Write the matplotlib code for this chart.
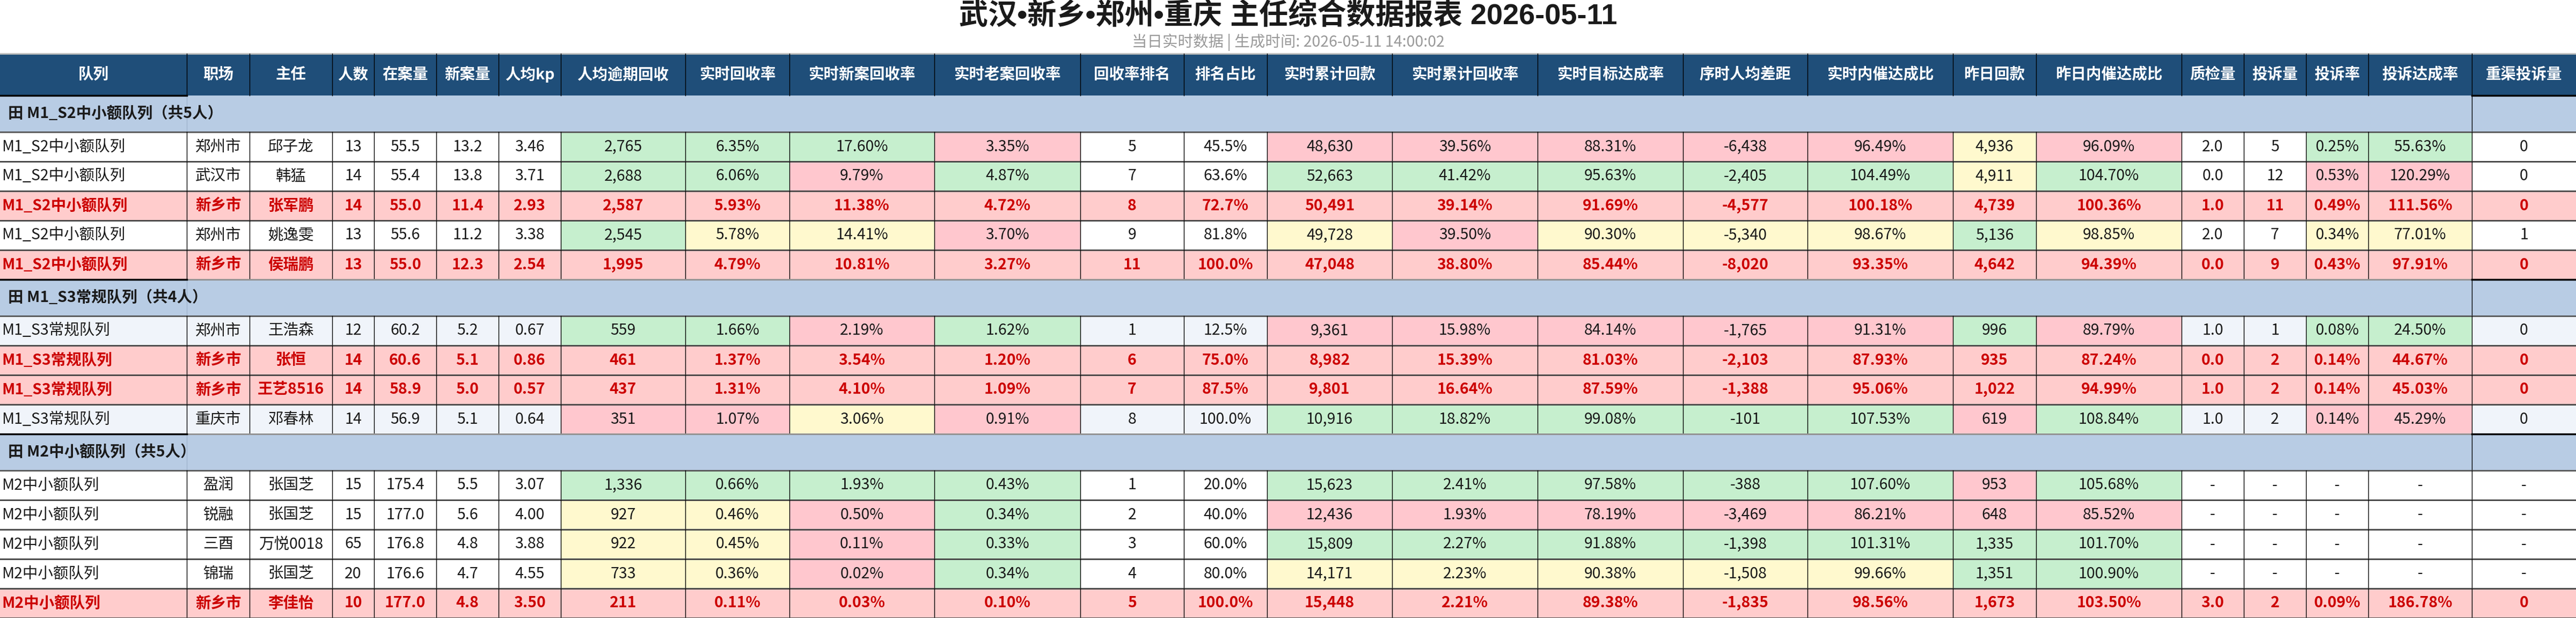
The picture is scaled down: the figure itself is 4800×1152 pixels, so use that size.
import matplotlib
matplotlib.use('Agg')
import matplotlib.pyplot as plt
from matplotlib.patches import Rectangle

plt.rcParams['font.family'] = ['Noto Sans CJK SC', 'DejaVu Sans']

# ---------------- data ----------------
title = '武汉•新乡•郑州•重庆 主任综合数据报表 2026-05-11'
subtitle = '当日实时数据 | 生成时间: 2026-05-11 14:00:02'
columns = ['队列', '职场', '主任', '人数', '在案量', '新案量', '人均kp', '人均逾期回收',
           '实时回收率', '实时新案回收率', '实时老案回收率', '回收率排名', '排名占比',
           '实时累计回款', '实时累计回收率', '实时目标达成率', '序时人均差距', '实时内催达成比',
           '昨日回款', '昨日内催达成比', '质检量', '投诉量', '投诉率', '投诉达成率', '重渠投诉量']
group_names = ['M1_S2中小额队列', 'M1_S3常规队列', 'M2中小额队列']
group_sizes = [5, 4, 5]
highlight_site = '新乡市'

queues = ['M1_S2中小额队列', 'M1_S2中小额队列', 'M1_S2中小额队列', 'M1_S2中小额队列', 'M1_S2中小额队列',
          'M1_S3常规队列', 'M1_S3常规队列', 'M1_S3常规队列', 'M1_S3常规队列',
          'M2中小额队列', 'M2中小额队列', 'M2中小额队列', 'M2中小额队列', 'M2中小额队列']
sites = ['郑州市', '武汉市', '新乡市', '郑州市', '新乡市', '郑州市', '新乡市', '新乡市', '重庆市',
         '盈润', '锐融', '三酉', '锦瑞', '新乡市']
managers = ['邱子龙', '韩猛', '张军鹏', '姚逸雯', '侯瑞鹏', '王浩森', '张恒', '王艺8516', '邓春林',
            '张国芝', '张国芝', '万悦0018', '张国芝', '李佳怡']
headcount = [13, 14, 14, 13, 13, 12, 14, 14, 14, 15, 15, 65, 20, 10]
caseload = [55.5, 55.4, 55.0, 55.6, 55.0, 60.2, 60.6, 58.9, 56.9, 175.4, 177.0, 176.8, 176.6, 177.0]
new_cases = [13.2, 13.8, 11.4, 11.2, 12.3, 5.2, 5.1, 5.0, 5.1, 5.5, 5.6, 4.8, 4.7, 4.8]
kp_per_head = [3.46, 3.71, 2.93, 3.38, 2.54, 0.67, 0.86, 0.57, 0.64, 3.07, 4.00, 3.88, 4.55, 3.50]
overdue_per_head = [2765, 2688, 2587, 2545, 1995, 559, 461, 437, 351, 1336, 927, 922, 733, 211]
recovery_rate = [6.35, 6.06, 5.93, 5.78, 4.79, 1.66, 1.37, 1.31, 1.07, 0.66, 0.46, 0.45, 0.36, 0.11]
new_case_rate = [17.60, 9.79, 11.38, 14.41, 10.81, 2.19, 3.54, 4.10, 3.06, 1.93, 0.50, 0.11, 0.02, 0.03]
old_case_rate = [3.35, 4.87, 4.72, 3.70, 3.27, 1.62, 1.20, 1.09, 0.91, 0.43, 0.34, 0.33, 0.34, 0.10]
rate_rank = [5, 7, 8, 9, 11, 1, 6, 7, 8, 1, 2, 3, 4, 5]
rank_share = [45.5, 63.6, 72.7, 81.8, 100.0, 12.5, 75.0, 87.5, 100.0, 20.0, 40.0, 60.0, 80.0, 100.0]
cum_amount = [48630, 52663, 50491, 49728, 47048, 9361, 8982, 9801, 10916, 15623, 12436, 15809, 14171, 15448]
cum_rate = [39.56, 41.42, 39.14, 39.50, 38.80, 15.98, 15.39, 16.64, 18.82, 2.41, 1.93, 2.27, 2.23, 2.21]
target_rate = [88.31, 95.63, 91.69, 90.30, 85.44, 84.14, 81.03, 87.59, 99.08, 97.58, 78.19, 91.88, 90.38, 89.38]
per_head_gap = [-6438, -2405, -4577, -5340, -8020, -1765, -2103, -1388, -101, -388, -3469, -1398, -1508, -1835]
inhouse_ratio = [96.49, 104.49, 100.18, 98.67, 93.35, 91.31, 87.93, 95.06, 107.53, 107.60, 86.21, 101.31, 99.66, 98.56]
yesterday_amount = [4936, 4911, 4739, 5136, 4642, 996, 935, 1022, 619, 953, 648, 1335, 1351, 1673]
yesterday_ratio = [96.09, 104.70, 100.36, 98.85, 94.39, 89.79, 87.24, 94.99, 108.84, 105.68, 85.52, 101.70, 100.90, 103.50]
qc_count = [2.0, 0.0, 1.0, 2.0, 0.0, 1.0, 0.0, 1.0, 1.0, None, None, None, None, 3.0]
complaints = [5, 12, 11, 7, 9, 1, 2, 2, 2, None, None, None, None, 2]
complaint_rate = [0.25, 0.53, 0.49, 0.34, 0.43, 0.08, 0.14, 0.14, 0.14, None, None, None, None, 0.09]
complaint_target = [55.63, 120.29, 111.56, 77.01, 97.91, 24.50, 44.67, 45.03, 45.29, None, None, None, None, 186.78]
rechannel_complaints = [0, 0, 0, 1, 0, 0, 0, 0, 0, None, None, None, None, 0]

# conditional-format status per cell (G good, Y middle, R bad, . none)
cell_status = [
    '.......GGGR..RRRRRYR..GG.',
    '.......GGRG..GGGGGYG..RR.',
    '.........................',
    '.......GYYR..YRYYYGY..YY.',
    '.........................',
    '.......GGRG..RRRRRGR..GG.',
    '.........................',
    '.........................',
    '.......RRYR..GGGGGRG..RR.',
    '.......GGGG..GGGGGRG.....',
    '.......YYRG..RRRRRRR.....',
    '.......YYRG..GGGGGGG.....',
    '.......YYRG..YYYYYGG.....',
    '.........................',
]

# ---------------- formatting ----------------
def f_int(v): return '-' if v is None else f'{v:,}'
def f1(v): return '-' if v is None else f'{v:.1f}'
def f2(v): return '-' if v is None else f'{v:.2f}'
def p1(v): return '-' if v is None else f'{v:.1f}%'
def p2(v): return '-' if v is None else f'{v:.2f}%'
def f_str(v): return v

col_data = [(queues, f_str), (sites, f_str), (managers, f_str), (headcount, f_int),
            (caseload, f1), (new_cases, f1), (kp_per_head, f2), (overdue_per_head, f_int),
            (recovery_rate, p2), (new_case_rate, p2), (old_case_rate, p2), (rate_rank, f_int),
            (rank_share, p1), (cum_amount, f_int), (cum_rate, p2), (target_rate, p2),
            (per_head_gap, f_int), (inhouse_ratio, p2), (yesterday_amount, f_int),
            (yesterday_ratio, p2), (qc_count, f1), (complaints, f_int), (complaint_rate, p2),
            (complaint_target, p2), (rechannel_complaints, f_int)]

# ---------------- layout / style ----------------
W, H = 4800, 1152
col_widths = [348, 117, 154, 78, 116, 116, 116, 232, 194, 270, 272, 193, 155, 233, 271,
              271, 232, 271, 155, 271, 116, 116, 116, 193, 194]
table_top, header_h, group_h, row_h = 100, 78, 68, 55
edges = [0]
for w in col_widths:
    edges.append(edges[-1] + w)

C_HEADER = '#1F4E79'
C_GROUP = '#B8CCE4'
C_ALT = '#F0F4FA'
C_HL = '#FFCCCC'
C_RED = '#CC0000'
C_TEXT = '#1a1a1a'
status_colors = {'G': '#C6EFCE', 'Y': '#FFF9CE', 'R': '#FFC7CE'}
FS = 20.5

fig = plt.figure(figsize=(48, 11.52), dpi=100)
ax = fig.add_axes([0, 0, 1, 1])
ax.set_xlim(0, W)
ax.set_ylim(H, 0)
ax.axis('off')

ax.text(W / 2, 31, title, ha='center', va='center', fontsize=39, fontweight='bold',
        color='#1a1a1a', family=['Liberation Sans', 'Noto Sans CJK SC', 'DejaVu Sans'])
ax.text(W / 2, 79, subtitle, ha='center', va='center', fontsize=20.5, color='#999999')

# header
ax.add_patch(Rectangle((0, table_top), W, header_h, facecolor=C_HEADER, edgecolor='none'))
ax.plot([0, W], [table_top, table_top], color='#bbbbbb', lw=2)
for j, name in enumerate(columns):
    cx = (edges[j] + edges[j + 1]) / 2
    ax.text(cx, table_top + header_h / 2, name, ha='center', va='center', fontsize=FS,
            fontweight='bold', color='white')
for x in edges[1:-1]:
    ax.plot([x, x], [table_top, table_top + header_h], color='black', lw=1)

y = table_top + header_h
row_idx = 0
for g, (gname, gsize) in enumerate(zip(group_names, group_sizes)):
    # group row
    ax.add_patch(Rectangle((0, y), W, group_h, facecolor=C_GROUP, edgecolor='none'))
    ax.plot([edges[1], edges[1]], [y, y + group_h], color='#9fb3cc', lw=1)
    ax.plot([edges[-2], edges[-2]], [y, y + group_h], color='black', lw=1)
    if g > 0:
        ax.plot([0, W], [y, y], color='#999999', lw=2)
    ax.plot([0, edges[1]], [y, y], color='black', lw=2.5)
    ax.plot([edges[-2], W], [y, y], color='black', lw=2.5)
    ax.text(15, y + group_h / 2, f'田 {gname}（共{gsize}人）', ha='left', va='center',
            fontsize=FS, fontweight='bold', color=C_TEXT)
    y += group_h
    ax.plot([0, W], [y, y], color='#555555', lw=2)
    for k in range(gsize):
        i = row_idx
        hl = sites[i] == highlight_site
        base = C_HL if hl else (C_ALT if g % 2 == 1 else 'white')
        for j in range(len(columns)):
            st = cell_status[i][j]
            fc = base if (hl or st == '.') else status_colors[st]
            ax.add_patch(Rectangle((edges[j], y), col_widths[j], row_h, facecolor=fc, edgecolor='none'))
        for x in edges[1:-1]:
            ax.plot([x, x], [y, y + row_h], color='black', lw=1)
        for j, (vals, fmt) in enumerate(col_data):
            txt = fmt(vals[i])
            kw = dict(fontsize=FS, va='center',
                      color=C_RED if hl else C_TEXT,
                      fontweight='bold' if hl else 'normal')
            if j == 0:
                ax.text(edges[0] + 3, y + row_h / 2, txt, ha='left', **kw)
            else:
                ax.text((edges[j] + edges[j + 1]) / 2, y + row_h / 2, txt, ha='center', **kw)
        y += row_h
        ax.plot([0, W], [y, y], color='#444444', lw=2)
        row_idx += 1

fig.savefig('out.png', dpi=100)
